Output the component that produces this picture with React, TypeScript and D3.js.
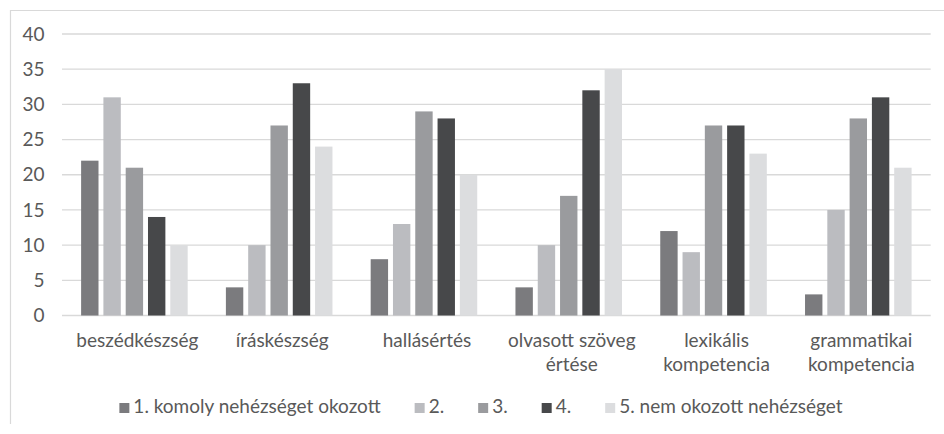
import React, { useEffect, useRef } from "react";
import * as d3 from "d3";

const categories: string[][] = [
  ["beszédkészség"],
  ["íráskészség"],
  ["hallásértés"],
  ["olvasott szöveg", "értése"],
  ["lexikális", "kompetencia"],
  ["grammatikai", "kompetencia"],
];
const seriesNames = ["1. komoly nehézséget okozott", "2.", "3.", "4.", "5. nem okozott nehézséget"];
const seriesColors = ["#7b7b7e", "#bbbcc0", "#9a9b9e", "#47484a", "#dcdddf"];
const s1 = [22, 4, 8, 4, 12, 3];
const s2 = [31, 10, 13, 10, 9, 15];
const s3 = [21, 27, 29, 17, 27, 28];
const s4 = [14, 33, 28, 32, 27, 31];
const s5 = [10, 24, 20, 35, 23, 21];
const seriesValues = [s1, s2, s3, s4, s5];
const yTicks = [0, 5, 10, 15, 20, 25, 30, 35, 40];

const W = 944;
const H = 434;
const FONT = "Lato, 'Open Sans', sans-serif";
const TXT = "#595959";
const FS = 19;

export default function App() {
  const ref = useRef<SVGSVGElement | null>(null);

  useEffect(() => {
    const svg = d3.select(ref.current);
    svg.selectAll("*").remove();

    const left = 62, right = 930.7, top = 34, bottom = 315.5;
    const catKeys = categories.map((c) => c.join(" "));
    const x0 = d3.scaleBand<string>().domain(catKeys).range([left, right]).padding(0);
    const bw = x0.bandwidth();
    const x1 = d3
      .scaleBand<string>()
      .domain(seriesNames)
      .range([bw * 0.132, bw * 0.868])
      .paddingInner(0.22)
      .paddingOuter(0);
    const y = d3.scaleLinear().domain([0, 40]).range([bottom, top]);

    // outer frame
    svg
      .append("path")
      .attr("d", `M10.5,424 V10.5 H${W}`)
      .attr("fill", "none")
      .attr("stroke", "#d9d9d9")
      .attr("stroke-width", 1.2);

    // gridlines
    svg
      .append("g")
      .selectAll("line")
      .data(yTicks)
      .join("line")
      .attr("x1", left)
      .attr("x2", right)
      .attr("y1", (d) => y(d))
      .attr("y2", (d) => y(d))
      .attr("stroke", "#d9d9d9")
      .attr("stroke-width", 1.3);

    // y tick labels
    svg
      .append("g")
      .selectAll("text")
      .data(yTicks)
      .join("text")
      .attr("x", 44.5)
      .attr("y", (d) => y(d))
      .attr("dy", "0.35em")
      .attr("text-anchor", "end")
      .attr("font-family", FONT)
      .attr("font-size", FS)
      .attr("fill", TXT)
      .text((d) => String(d));

    // bars
    const bars: { cat: string; s: string; v: number; c: string }[] = [];
    catKeys.forEach((cat, ci) => {
      seriesNames.forEach((s, si) => {
        bars.push({ cat, s, v: seriesValues[si][ci], c: seriesColors[si] });
      });
    });
    svg
      .append("g")
      .selectAll("rect")
      .data(bars)
      .join("rect")
      .attr("x", (d) => (x0(d.cat) as number) + (x1(d.s) as number))
      .attr("width", x1.bandwidth())
      .attr("y", (d) => y(d.v))
      .attr("height", (d) => y(0) - y(d.v))
      .attr("fill", (d) => d.c);

    // category labels
    const cg = svg.append("g");
    categories.forEach((lines, i) => {
      const cx = (x0(catKeys[i]) as number) + bw / 2 + 3;
      lines.forEach((ln, li) => {
        cg.append("text")
          .attr("x", cx)
          .attr("y", 347 + li * 23.5)
          .attr("text-anchor", "middle")
          .attr("font-family", FONT)
          .attr("font-size", FS)
          .attr("fill", TXT)
          .text(ln);
      });
    });

    // legend
    const lg = svg.append("g");
    const sq = 10, gapSq = 4, gapItem = 34;
    const items = seriesNames.map((n, i) => {
      const g = lg.append("g");
      g.append("rect").attr("width", sq).attr("height", sq).attr("y", -sq).attr("fill", seriesColors[i]);
      const t = g
        .append("text")
        .attr("x", sq + gapSq)
        .attr("y", 0)
        .attr("font-family", FONT)
        .attr("font-size", FS)
        .attr("fill", TXT)
        .text(n);
      const w = (t.node() as SVGTextElement).getComputedTextLength();
      return { g, w: sq + gapSq + w };
    });
    const total = d3.sum(items, (d) => d.w) + gapItem * (items.length - 1);
    let cx = 481 - total / 2;
    items.forEach((it) => {
      it.g.attr("transform", `translate(${cx},413)`);
      cx += it.w + gapItem;
    });
  }, []);

  return (
    <svg
      ref={ref}
      width={W}
      height={H}
      style={{ position: "absolute", left: 0, top: 0, display: "block", background: "#fff" }}
    />
  );
}
